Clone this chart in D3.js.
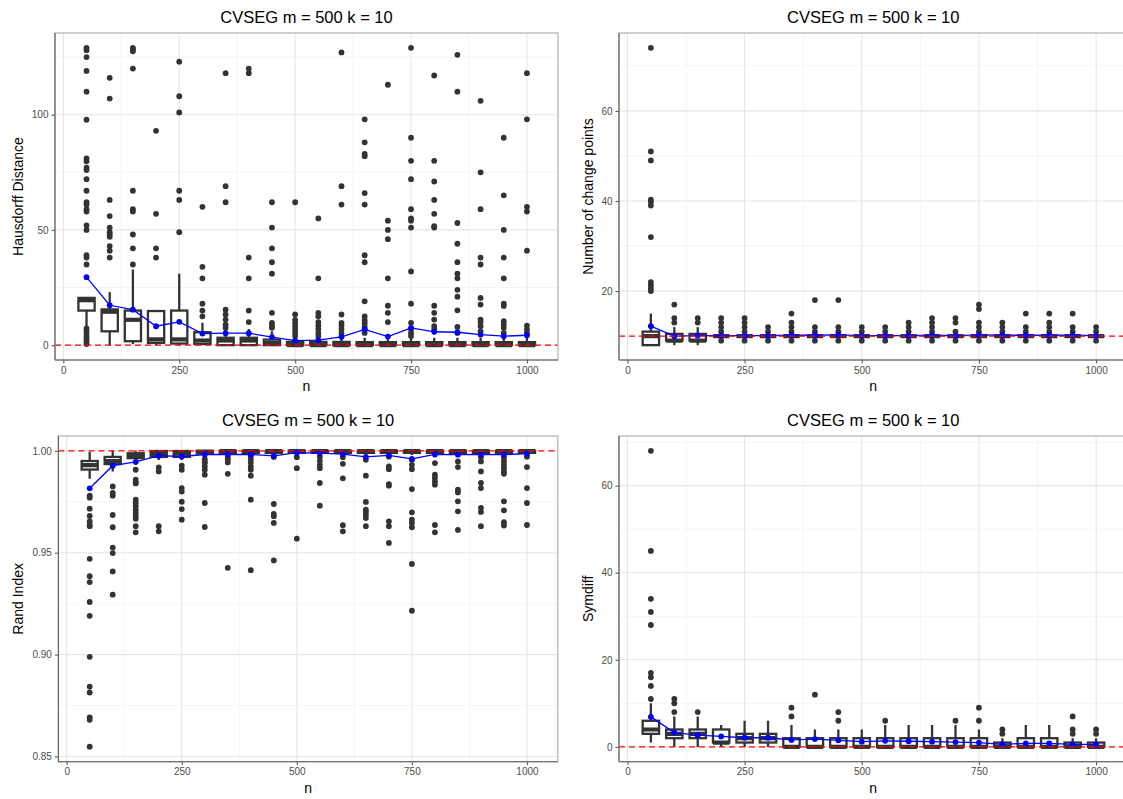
<!DOCTYPE html>
<html><head><meta charset="utf-8">
<script src="https://cdn.jsdelivr.net/npm/d3@7"></script>
<style>body{margin:0;background:#fff}svg{display:block}text{font-family:"Liberation Sans",Arial,Helvetica,sans-serif}</style>
</head><body><svg id="c" width="1123" height="799"></svg>
<script>
// ---------------- DATA ----------------
const nValues = [50,100,150,200,250,300,350,400,450,500,550,600,650,700,750,800,850,900,950,1000];
const chartTitle = "CVSEG m = 500 k = 10";
const xTicks = [0,250,500,750,1000];
const xMinor = [125,375,625,875];

// Panel 1: Hausdorff Distance
const hausQ1  = [15,6,1.7,1,0.7,0.5,0,0,0,0,0,0,0,0,0,0,0,0,0,0];
const hausMed = [19.5,14.5,11,2.5,2.5,2,2,2,1,0,0,0,0,0,0,0,0,0,0,0];
const hausQ3  = [20.5,15.5,15,14.8,15,5.6,3.2,3.2,2.4,1.4,1.4,1.4,1.3,1.3,1.3,1.3,1.3,1.3,1.3,1.3];
const hausLo  = [8,0,0.5,0,0,0,0,0,0,0,0,0,0,0,0,0,0,0,0,0];
const hausHi  = [20.5,23,32.8,15,31,9.7,6.5,7,6,3.5,3.5,3.5,3.2,3.2,3.2,3.2,3.2,3.2,3.2,3.2];
const hausMean = [29.5,17.3,15.4,8.2,10.1,5.0,5.2,5.2,3.5,2.0,2.2,3.6,6.8,3.7,7.5,5.8,5.6,4.6,3.9,4.3];
const hausOut = [
 [129,128,125,119,110,97.8,81,79.8,77,76,72,67,62,61,59,58,52,50,39,38,35,7.3,6.2,5,3.8,2.6,1.5,0.5],
 [116,107,63,56,51,49,48,47,43,41,38],
 [129,128.3,127.5,120,67,59,58,48,42,35],
 [93,57,42,38],
 [123,108,101,67,63,49],
 [60,34,29,18,15,12.5],
 [118,69,62,15.4,13.3,11.1,8.9,7.5],
 [120,118,38,29,15,10],
 [62,51,42,36,31,14,9.7,8.5,7.5],
 [62,13.3,11,9.7,8.2,6.8,5.3,4],
 [55,29,14,12.5,10,8.5,7,5.3,4],
 [127,69,61,13.3,9.7,8.5,7,5.3],
 [98,88,83,82,66,61,39,36,19,12.5,10.8,9.5,8,6.8,5.3],
 [113,54,50,46,29,17.1,14,10],
 [129,90,80,72,59,55,54,51,32,18,9.7,7,5.3,4],
 [117,80,71,63,57,51.6,51,17.1,14,11.1,8.2,6.8],
 [126,110,53,44,36,31,29,24,21,15.1,7.9,5.3],
 [106,75,59,38,35,20.5,17.6,11.1,10,8.2,6],
 [90,65,50,38,29,18,17,10.4,9,7.5,5.3],
 [118,98,60,58,41,8.5,6.8,5.3]
];

// Panel 2: Number of change points
const cpQ1  = [8,9,9,10,10,10,10,10,10,10,10,10,10,10,10,10,10,10,10,10];
const cpMed = [10,9,9,10,10,10,10,10,10,10,10,10,10,10,10,10,10,10,10,10];
const cpQ3  = [11,10.5,10.5,10,10,10,10,10,10,10,10,10,10,10,10,10,10,10,10,10];
const cpLo  = [8,8,8,10,10,10,10,10,10,10,10,10,10,10,10,10,10,10,10,10];
const cpHi  = [15,12,12,10,10,10,10,10,10,10,10,10,10,10,10,10,10,10,10,10];
const cpMean = [12.2,10.0,10.1,10.1,10.1,10.1,10.2,10.2,10.3,10.1,10.1,10.1,10.2,10.1,10.3,10.2,10.2,10.2,10.2,10.1];
const cpOut = [
 [74,51,49,40.3,39.8,39,32,22,21.3,20.6,20],
 [17,14,13],
 [14,13],
 [14,13,12,11,9],
 [14,13,12,11,9],
 [12,11,9],
 [15,13,12,11,9],
 [18,12,11,9],
 [18,12,11,9],
 [12,11,9],
 [12,11,9],
 [13,12,11,9],
 [14,13,12,11,9],
 [14,13,11,9],
 [17,16,13,12,11,9],
 [13,12,11,9],
 [15,12,11,9],
 [15,13,12,11,9],
 [15,12,11,9],
 [12,11,9]
];

// Panel 3: Rand Index
const riQ1  = [0.9908,0.9935,0.9964,0.997,0.997,0.9987,0.999,0.999,0.999,0.999,0.999,0.999,0.999,0.999,0.999,0.999,0.999,0.999,0.999,0.999];
const riMed = [0.993,0.995,0.9977,0.9985,0.9986,0.9995,0.9998,0.9998,0.9998,0.9998,0.9998,0.9998,0.9998,0.9998,0.9998,0.9998,0.9998,0.9998,0.9998,0.9998];
const riQ3  = [0.995,0.997,0.9988,0.9999,0.9999,1,1,1,1,1,1,1,1,1,1,1,1,1,1,1];
const riLo  = [0.9863,0.9899,0.993,0.9955,0.9955,0.9975,0.998,0.998,0.998,0.998,0.998,0.998,0.998,0.998,0.998,0.998,0.998,0.998,0.998,0.998];
const riHi  = [0.9994,1,1,1,1,1,1,1,1,1,1,1,1,1,1,1,1,1,1,1];
const riMean = [0.9816,0.9927,0.9946,0.9976,0.9972,0.9982,0.9982,0.9982,0.9975,0.9991,0.9989,0.9984,0.997,0.9978,0.996,0.9982,0.9981,0.9982,0.9981,0.9986];
const riOut = [
 [0.978,0.977,0.9716,0.968,0.9654,0.9637,0.963,0.947,0.9385,0.9356,0.9258,0.919,0.8989,0.8843,0.8814,0.8692,0.868,0.8548],
 [0.9825,0.9793,0.978,0.9685,0.9625,0.9525,0.9498,0.9408,0.9294],
 [0.9907,0.9858,0.9845,0.984,0.976,0.9745,0.9728,0.971,0.9695,0.9679,0.9666,0.963,0.96],
 [0.9918,0.9899,0.963,0.9605],
 [0.9927,0.9907,0.9817,0.98,0.975,0.9714,0.9662],
 [0.9959,0.9945,0.994,0.9923,0.9907,0.9883,0.9744,0.9626],
 [0.9965,0.9957,0.9943,0.9887,0.9426],
 [0.9975,0.9959,0.9943,0.9923,0.9907,0.9878,0.976,0.9414],
 [0.997,0.9739,0.969,0.9679,0.9646,0.9462],
 [0.9969,0.9915,0.9569],
 [0.9971,0.9951,0.9931,0.9915,0.9842,0.9731],
 [0.9969,0.9936,0.9865,0.9635,0.9605],
 [0.9956,0.9878,0.9749,0.9711,0.97,0.9685,0.967,0.963],
 [0.9971,0.9923,0.991,0.9837,0.9829,0.9654,0.963,0.9548],
 [0.9956,0.9931,0.991,0.9812,0.9698,0.9662,0.9646,0.9625,0.9445,0.9215],
 [0.994,0.9883,0.9867,0.985,0.9834,0.9636,0.96],
 [0.9948,0.992,0.9809,0.9796,0.9752,0.9703,0.9612],
 [0.9969,0.9948,0.9899,0.9842,0.9817,0.972,0.97,0.963],
 [0.9965,0.9948,0.9931,0.9915,0.9899,0.9887,0.9752,0.9708,0.965,0.9633],
 [0.9971,0.992,0.9817,0.9744,0.9636]
];

// Panel 4: Symdiff
const sdQ1  = [3,2,2,1,1,1,0,0,0,0,0,0,0,0,0,0,0,0,0,0];
const sdMed = [4,3,3,1,2,2,0,0,0,0,0,0,0,0,0,0,0,0,0,0];
const sdQ3  = [6,4,4,4,3,3,2,2,2,2,2,2,2,2,2,1,2,2,1,1];
const sdLo  = [1,0,0,0,0,0,0,0,0,0,0,0,0,0,0,0,0,0,0,0];
const sdHi  = [10,7,7,5,6,6,5,4,4,4,5,5,5,5,4,2,5,5,2,2];
const sdMean = [6.9,3.3,2.7,2.4,2.1,2.1,1.6,1.8,1.5,1.2,1.4,1.3,1.2,1.1,1.0,0.6,0.8,0.8,0.6,0.6];
const sdOut = [
 [68,45,34,31,28,17,16,14,11],
 [11,10,8],
 [8],[],[],[],
 [9,7],
 [12],
 [8,6],
 [],
 [6],[],[],
 [6],
 [9,6],
 [4,3],
 [],[],
 [7,4,3],
 [4,3]
];

// y-axis settings per panel
const hausYTicks = [0,50,100], hausYMinor = [25,75,125];
const cpYTicks = [20,40,60], cpYMinor = [10,30,50,70];
const riYTicks = [0.85,0.90,0.95,1.00], riYMinor = [0.875,0.925,0.975];
const sdYTicks = [0,20,40,60], sdYMinor = [10,30,50,70];

// ---------------- DRAW ----------------
const svg = d3.select("#c");
svg.append("rect").attr("width",1123).attr("height",799).attr("fill","#fff");

const panels = [
 {box:{x0:55,x1:558,y0:33,y1:360}, yTitleX:18, titleY:23, nY:391,
  ydom:[-6.45,135.45], yticks:hausYTicks, yminor:hausYMinor, fmt:d3.format("d"), ylabel:"Hausdorff Distance", ref:0,
  q1:hausQ1, med:hausMed, q3:hausQ3, lo:hausLo, hi:hausHi, mean:hausMean, out:hausOut},
 {box:{x0:619,x1:1127.5,y0:33,y1:360}, yTitleX:588, titleY:23, nY:391,
  ydom:[4.7,77.3], yticks:cpYTicks, yminor:cpYMinor, fmt:d3.format("d"), ylabel:"Number of change points", ref:10,
  q1:cpQ1, med:cpMed, q3:cpQ3, lo:cpLo, hi:cpHi, mean:cpMean, out:cpOut},
 {box:{x0:58.4,x1:557.8,y0:436,y1:761.7}, yTitleX:18, titleY:426, nY:793,
  ydom:[0.84743,1.00727], yticks:riYTicks, yminor:riYMinor, fmt:d3.format(".2f"), ylabel:"Rand Index", ref:1,
  q1:riQ1, med:riMed, q3:riQ3, lo:riLo, hi:riHi, mean:riMean, out:riOut},
 {box:{x0:619,x1:1127.5,y0:436,y1:761.7}, yTitleX:588, titleY:426, nY:793,
  ydom:[-3.4,71.4], yticks:sdYTicks, yminor:sdYMinor, fmt:d3.format("d"), ylabel:"Symdiff", ref:0,
  q1:sdQ1, med:sdMed, q3:sdQ3, lo:sdLo, hi:sdHi, mean:sdMean, out:sdOut}
];

const BOXW = 35;
const dark = "#333333";

panels.forEach((p,pi)=>{
  const b = p.box;
  const x = d3.scaleLinear().domain([-18,1067]).range([b.x0,b.x1]);
  const y = d3.scaleLinear().domain(p.ydom).range([b.y1,b.y0]);
  const g = svg.append("g");
  const cid = "clip"+pi;
  svg.append("clipPath").attr("id",cid).append("rect")
    .attr("x",b.x0).attr("y",b.y0).attr("width",b.x1-b.x0).attr("height",b.y1-b.y0);
  const pg = g.append("g").attr("clip-path",`url(#${cid})`);

  // minor grid
  pg.selectAll(".gxm").data(xMinor).join("line")
    .attr("x1",d=>x(d)).attr("x2",d=>x(d)).attr("y1",b.y0).attr("y2",b.y1)
    .attr("stroke","#f0f0f0").attr("stroke-width",0.7);
  pg.selectAll(".gym").data(p.yminor).join("line")
    .attr("y1",d=>y(d)).attr("y2",d=>y(d)).attr("x1",b.x0).attr("x2",b.x1)
    .attr("stroke","#f0f0f0").attr("stroke-width",0.7);
  // major grid
  pg.selectAll(".gx").data(xTicks).join("line")
    .attr("x1",d=>x(d)).attr("x2",d=>x(d)).attr("y1",b.y0).attr("y2",b.y1)
    .attr("stroke","#e6e6e6").attr("stroke-width",1.1);
  pg.selectAll(".gy").data(p.yticks).join("line")
    .attr("y1",d=>y(d)).attr("y2",d=>y(d)).attr("x1",b.x0).attr("x2",b.x1)
    .attr("stroke","#e6e6e6").attr("stroke-width",1.1);

  // outliers
  const outPts = [];
  nValues.forEach((n,i)=>p.out[i].forEach(v=>outPts.push([n,v])));
  pg.append("g").selectAll("circle").data(outPts).join("circle")
    .attr("cx",d=>x(d[0])).attr("cy",d=>y(d[1])).attr("r",2.9).attr("fill",dark);

  // boxes
  const bx = pg.append("g");
  nValues.forEach((n,i)=>{
    const cx = x(n), hw = x(n+BOXW/2)-x(n);
    bx.append("line").attr("x1",cx).attr("x2",cx).attr("y1",y(p.q3[i])).attr("y2",y(p.hi[i]))
      .attr("stroke",dark).attr("stroke-width",2.3);
    bx.append("line").attr("x1",cx).attr("x2",cx).attr("y1",y(p.q1[i])).attr("y2",y(p.lo[i]))
      .attr("stroke",dark).attr("stroke-width",2.3);
    bx.append("rect").attr("x",cx-hw).attr("width",2*hw)
      .attr("y",y(p.q3[i])).attr("height",Math.max(0,y(p.q1[i])-y(p.q3[i])))
      .attr("fill","#fff").attr("stroke",dark).attr("stroke-width",2.3);
    bx.append("line").attr("x1",cx-hw).attr("x2",cx+hw).attr("y1",y(p.med[i])).attr("y2",y(p.med[i]))
      .attr("stroke",dark).attr("stroke-width",4.2);
  });

  // mean line + points
  const meanData = nValues.map((n,i)=>[n,p.mean[i]]);
  pg.append("path").datum(meanData)
    .attr("d",d3.line().x(d=>x(d[0])).y(d=>y(d[1])))
    .attr("fill","none").attr("stroke","#0000ff").attr("stroke-width",1.3);
  pg.append("g").selectAll("circle").data(meanData).join("circle")
    .attr("cx",d=>x(d[0])).attr("cy",d=>y(d[1])).attr("r",2.9).attr("fill","#0000ff");

  // reference line
  pg.append("line").attr("x1",b.x0).attr("x2",b.x1).attr("y1",y(p.ref)).attr("y2",y(p.ref))
    .attr("stroke","#ff0000").attr("stroke-width",1.3).attr("stroke-dasharray","6,4");

  // border
  g.append("rect").attr("x",b.x0).attr("y",b.y0).attr("width",b.x1-b.x0).attr("height",b.y1-b.y0)
    .attr("fill","none").attr("stroke","#b3b3b3").attr("stroke-width",1.2);
  g.append("line").attr("x1",b.x0).attr("x2",b.x0).attr("y1",b.y0).attr("y2",b.y1)
    .attr("stroke","#5e5e5e").attr("stroke-width",1.1);
  g.append("line").attr("x1",b.x0).attr("x2",b.x1).attr("y1",b.y1).attr("y2",b.y1)
    .attr("stroke","#5e5e5e").attr("stroke-width",1.1);

  // axes
  const xa = g.append("g").attr("transform",`translate(0,${b.y1})`)
    .call(d3.axisBottom(x).tickValues(xTicks).tickFormat(d3.format("d")).tickSize(3.5).tickPadding(3));
  const ya = g.append("g").attr("transform",`translate(${b.x0},0)`)
    .call(d3.axisLeft(y).tickValues(p.yticks).tickFormat(p.fmt).tickSize(3.5).tickPadding(3));
  [xa,ya].forEach(a=>{
    a.select(".domain").remove();
    a.selectAll(".tick line").attr("stroke","#5e5e5e").attr("stroke-width",1.1);
    a.selectAll(".tick text").attr("fill","#4d4d4d").attr("font-size","10px")
      .attr("font-family","'Liberation Sans',Arial,sans-serif");
  });

  // titles
  const cxp = (b.x0+b.x1)/2;
  g.append("text").attr("x",cxp).attr("y",p.titleY).attr("text-anchor","middle")
    .attr("font-size","16.5px").attr("fill","#000").text(chartTitle);
  g.append("text").attr("x",cxp).attr("y",p.nY).attr("text-anchor","middle")
    .attr("font-size","14px").attr("fill","#000").text("n");
  g.append("text").attr("transform",`translate(${p.yTitleX+5},${(b.y0+b.y1)/2}) rotate(-90)`)
    .attr("text-anchor","middle").attr("font-size","14px").attr("fill","#000").text(p.ylabel);
});
</script>
</body></html>
